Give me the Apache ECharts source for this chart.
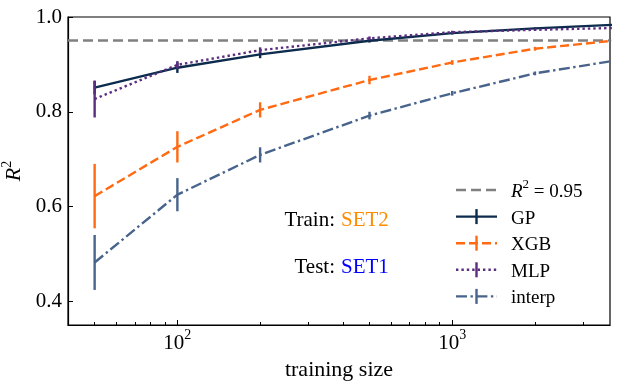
<!DOCTYPE html>
<html>
<head>
<meta charset="utf-8">
<script src="https://cdn.jsdelivr.net/npm/echarts@6/dist/echarts.min.js"></script>
<style>
  html, body { margin: 0; padding: 0; background: #fff; }
  #chart { width: 620px; height: 385px; }
</style>
</head>
<body>
<div id="chart"></div>
<script>
// training sizes (x), last point lies past the right edge and gets clipped
const sizes = [50, 100, 200, 500, 1000, 2000, 4000];

const gpMean = [0.851, 0.893, 0.921, 0.950, 0.966, 0.976, 0.984];
const gpErr = [0.014, 0.011, 0.008, 0.004, 0.003, 0.002, 0.002];
const xgbMean = [0.622, 0.726, 0.804, 0.867, 0.904, 0.933, 0.951];
const xgbErr = [0.068, 0.033, 0.016, 0.009, 0.005, 0.004, 0.003];
const mlpMean = [0.827, 0.899, 0.930, 0.955, 0.968, 0.973, 0.977];
const mlpErr = [0.039, 0.008, 0.006, 0.004, 0.003, 0.002, 0.002];
const interpMean = [0.482, 0.625, 0.709, 0.792, 0.839, 0.881, 0.909];
const interpErr = [0.058, 0.035, 0.016, 0.008, 0.005, 0.004, 0.003];

const refR2 = 0.95;
const yTicks = [0.4, 0.6, 0.8, 1.0];
const xMajor = [100, 1000];
const xMinor = [50, 60, 70, 80, 90, 200, 300, 400, 500, 600, 700, 800, 900, 2000, 3000];

const FONT = 'Liberation Serif';

const models = [
  { name: 'GP', mean: gpMean, err: gpErr, color: '#0c2b4d', dash: 'solid' },
  { name: 'XGB', mean: xgbMean, err: xgbErr, color: '#ff6a12', dash: [9, 4] },
  { name: 'MLP', mean: mlpMean, err: mlpErr, color: '#5a2d7f', dash: [2.4, 3] },
  { name: 'interp', mean: interpMean, err: interpErr, color: '#48648c', dash: [11, 3.5, 2.4, 3.5] }
];

function errRender(params, api) {
  const x = api.value(0);
  const lo = api.coord([x, api.value(1)]);
  const hi = api.coord([x, api.value(2)]);
  return {
    type: 'line',
    shape: { x1: lo[0], y1: lo[1], x2: hi[0], y2: hi[1] },
    style: { stroke: api.visual('color'), lineWidth: 2.4 }
  };
}

let series = [];
models.forEach((m, i) => {
  let line = {
    name: m.name,
    type: 'line',
    data: sizes.map((s, k) => [s, m.mean[k]]),
    symbol: 'none',
    clip: true,
    z: 3 + i,
    lineStyle: { color: m.color, width: 2.4, type: m.dash, cap: 'butt' }
  };
  if (i === 0) {
    line.markLine = {
      silent: true,
      symbol: 'none',
      z: 1,
      label: { show: false },
      lineStyle: { color: '#808080', width: 2.5, type: [10, 5] },
      data: [{ yAxis: refR2 }]
    };
  }
  series.push(line);
  series.push({
    name: m.name + ' err',
    type: 'custom',
    clip: true,
    z: 3 + i,
    itemStyle: { color: m.color },
    renderItem: errRender,
    data: sizes.map((s, k) => [s, m.mean[k] - m.err[k], m.mean[k] + m.err[k]])
  });
});

// hand-drawn legend (line sample with the error-bar tick through it)
const legendItems = [
  { label: '{r|R}{s|2}{t| = 0.95}', color: '#808080', dash: [10, 5], bar: false },
  { label: 'GP', color: models[0].color, dash: null, bar: true },
  { label: 'XGB', color: models[1].color, dash: [9, 4], bar: true },
  { label: 'MLP', color: models[2].color, dash: [2.4, 3], bar: true },
  { label: 'interp', color: models[3].color, dash: [11, 3.5, 2.4, 3.5], bar: true }
];
const richText = {
  r: { fontFamily: FONT, fontSize: 19, fontStyle: 'italic', verticalAlign: 'bottom', lineHeight: 23 },
  s: { fontFamily: FONT, fontSize: 13, verticalAlign: 'top', lineHeight: 13 },
  t: { fontFamily: FONT, fontSize: 19, verticalAlign: 'bottom', lineHeight: 23 }
};
let graphics = [];
legendItems.forEach((it, i) => {
  const y = 190 + i * 26.6;
  graphics.push({
    type: 'line',
    shape: { x1: 456, y1: y, x2: 497, y2: y },
    style: { stroke: it.color, lineWidth: 2.4, lineDash: it.dash || null },
    z: 10
  });
  if (it.bar) {
    graphics.push({
      type: 'line',
      shape: { x1: 476.5, y1: y - 7.5, x2: 476.5, y2: y + 7.5 },
      style: { stroke: it.color, lineWidth: 2.4 },
      z: 10
    });
  }
  graphics.push({
    type: 'text',
    x: 511, y: y,
    style: {
      text: i === 0 ? it.label : '{t|' + it.label + '}',
      rich: richText,
      fill: '#000',
      verticalAlign: 'middle',
      align: 'left'
    },
    z: 10
  });
});
// Train / Test annotation
[['Train:', 'SET2', '#ff8c00', 220], ['Test:', 'SET1', '#0000ff', 267]].forEach((t) => {
  graphics.push({
    type: 'text', x: 335, y: t[3],
    style: { text: t[0], fontFamily: FONT, fontSize: 21, fill: '#000', align: 'right', verticalAlign: 'middle' }
  });
  graphics.push({
    type: 'text', x: 341, y: t[3],
    style: { text: t[1], fontFamily: FONT, fontSize: 21, fill: t[2], align: 'left', verticalAlign: 'middle' }
  });
});

const chart = echarts.init(document.getElementById('chart'));
chart.setOption({
  animation: false,
  textStyle: { fontFamily: FONT },
  grid: {
    left: 68, right: 10, top: 17, bottom: 60,
    outerBoundsMode: 'none',
    containLabel: false,
    show: true, borderColor: '#000', borderWidth: 1.2
  },
  xAxis: [
    {
      type: 'log', logBase: 10, min: 40, max: 3750,
      position: 'bottom',
      name: 'training size',
      nameLocation: 'middle',
      nameGap: 21,
      nameTextStyle: { fontFamily: FONT, fontSize: 22, color: '#000' },
      axisLine: { show: true, lineStyle: { color: '#000', width: 1.2 } },
      axisTick: { show: true, inside: true, length: 5, customValues: xMajor, lineStyle: { color: '#000', width: 1 } },
      minorTick: { show: false },
      splitLine: { show: false },
      axisLabel: {
        customValues: xMajor,
        margin: 3,
        formatter: (v) => '{b|10}{s|' + Math.round(Math.log10(v)) + '}',
        rich: {
          b: { fontFamily: FONT, fontSize: 21, color: '#000', verticalAlign: 'bottom', lineHeight: 26 },
          s: { fontFamily: FONT, fontSize: 14, color: '#000', verticalAlign: 'top', lineHeight: 14 }
        }
      }
    },
    {
      type: 'log', logBase: 10, min: 40, max: 3750,
      position: 'bottom',
      axisLine: { show: false },
      axisTick: { show: true, inside: true, length: 3, customValues: xMinor, lineStyle: { color: '#000', width: 1 } },
      axisLabel: { show: false },
      splitLine: { show: false }
    }
  ],
  yAxis: {
    type: 'value', min: 0.35, max: 1.0,
    name: '{r|R}{s|2}',
    nameLocation: 'middle',
    nameGap: 36,
    nameRotate: 90,
    nameTextStyle: {
      rich: {
        r: { fontFamily: FONT, fontSize: 22, fontStyle: 'italic', color: '#000', verticalAlign: 'bottom', lineHeight: 25 },
        s: { fontFamily: FONT, fontSize: 14, color: '#000', verticalAlign: 'top', lineHeight: 14 }
      }
    },
    axisLine: { show: true, lineStyle: { color: '#000', width: 1.2 } },
    axisTick: { show: true, inside: true, length: 5, customValues: yTicks, lineStyle: { color: '#000', width: 1 } },
    splitLine: { show: false },
    axisLabel: {
      customValues: yTicks,
      margin: 6,
      fontFamily: FONT,
      fontSize: 21,
      color: '#000',
      formatter: (v) => v.toFixed(1)
    }
  },
  series: series,
  graphic: graphics
});
</script>
</body>
</html>
